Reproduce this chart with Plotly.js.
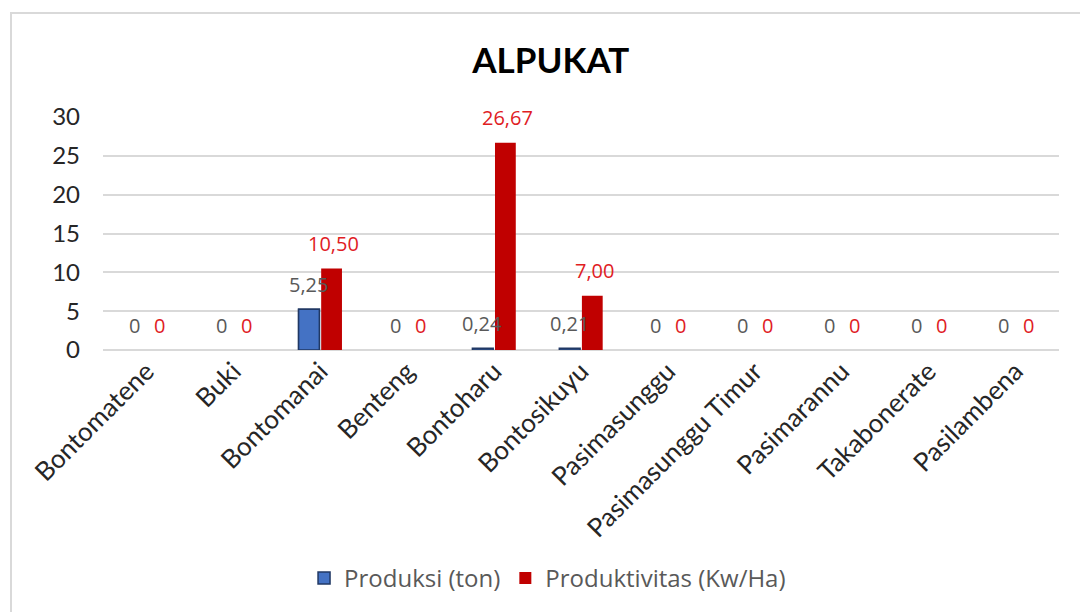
<!DOCTYPE html>
<html>
<head>
<meta charset="utf-8">
<script src="https://cdn.plot.ly/plotly-3.0.1.min.js"></script>
<style>
  html, body { margin: 0; padding: 0; background: #fff; width: 1080px; height: 612px; overflow: hidden; }
  #frame { position: absolute; left: 10px; top: 12px; width: 1100px; height: 640px; border-left: 2px solid #d9d9d9; border-top: 2px solid #d9d9d9; }
  #chart { position: absolute; left: 0; top: 0; width: 1080px; height: 612px; }
</style>
</head>
<body>
<div id="frame"></div>
<div id="chart"></div>
<script>
const categories = ["Bontomatene", "Buki", "Bontomanai", "Benteng", "Bontoharu", "Bontosikuyu", "Pasimasunggu", "Pasimasunggu Timur", "Pasimarannu", "Takabonerate", "Pasilambena"];
const produksi = [0, 0, 5.25, 0, 0.24, 0.21, 0, 0, 0, 0, 0];
const produktivitas = [0, 0, 10.50, 0, 26.67, 7.00, 0, 0, 0, 0, 0];
const seriesNames = ["Produksi (ton)", "Produktivitas (Kw/Ha)"];
const yTicks = [0, 5, 10, 15, 20, 25, 30];

const fmt = v => v === 0 ? "0" : v.toFixed(2).replace(".", ",");

const fontA = "Lato, 'Open Sans', sans-serif";
const fontB = "'Open Sans', 'Noto Sans', sans-serif";

const blueMarker = { color: "#4472c4", line: { color: "#203864", width: 1.5 } };
const firstNonZero = produksi.findIndex(v => v !== 0);

const traces = [
  {
    type: "bar", name: seriesNames[0], x: categories, y: produksi, offsetgroup: "a", showlegend: false,
    marker: { color: blueMarker.color, line: { color: blueMarker.line.color, width: produksi.map(v => v === 0 ? 0 : 1.5) } }
  },
  {
    // same series, one non-zero point re-drawn so the legend key carries the outline
    type: "bar", name: seriesNames[0], x: [categories[firstNonZero]], y: [produksi[firstNonZero]],
    offsetgroup: "a", marker: blueMarker, legendrank: 1
  },
  {
    type: "bar", name: seriesNames[1], x: categories, y: produktivitas, offsetgroup: "b", legendrank: 2,
    marker: { color: "#c00000", line: { color: "#c00000", width: 0 } }
  }
];

// data labels built from the series arrays
const labelAnns = [];
categories.forEach((c, i) => {
  labelAnns.push({ x: c, y: produksi[i], xref: "x", yref: "y", text: fmt(produksi[i]),
    showarrow: false, xshift: -12, yshift: 25, yanchor: "middle",
    font: { family: fontB, size: 20, color: "#595959" } });
  labelAnns.push({ x: c, y: produktivitas[i], xref: "x", yref: "y", text: fmt(produktivitas[i]),
    showarrow: false, xshift: 13, yshift: 25, yanchor: "middle",
    font: { family: fontB, size: 20, color: "#e0201f" } });
});

const layout = {
  width: 1080, height: 612,
  paper_bgcolor: "rgba(0,0,0,0)", plot_bgcolor: "rgba(0,0,0,0)",
  margin: { l: 103, r: 21, t: 117, b: 262 },
  barmode: "group", bargap: 0.48, bargroupgap: 0.08,
  title: { text: "<b>ALPUKAT</b>", x: 0.51, xanchor: "center", y: 0.9, yanchor: "middle",
           font: { family: fontA, size: 35, color: "#000" } },
  xaxis: {
    tickangle: -45, tickfont: { family: fontA, size: 26, color: "#262626" },
    showgrid: false, showline: false, ticks: "", automargin: false
  },
  yaxis: {
    range: [0, 30], tickvals: yTicks, ticktext: yTicks.map(String),
    tickfont: { family: fontA, size: 24, color: "#262626" },
    gridcolor: "#d9d9d9", gridwidth: 2, zeroline: true, zerolinecolor: "#d9d9d9", zerolinewidth: 2,
    showline: false, ticks: "", ticklabelstandoff: 22, automargin: false
  },
  annotations: labelAnns,
  legend: {
    orientation: "h", x: 0.465, xanchor: "center", y: -0.98, yanchor: "middle",
    font: { family: fontB, size: 24, color: "#595959" }, itemwidth: 30, tracegroupgap: 0
  },
  showlegend: true
};

Plotly.newPlot("chart", traces, layout, { displayModeBar: false, staticPlot: true });
</script>
</body>
</html>
